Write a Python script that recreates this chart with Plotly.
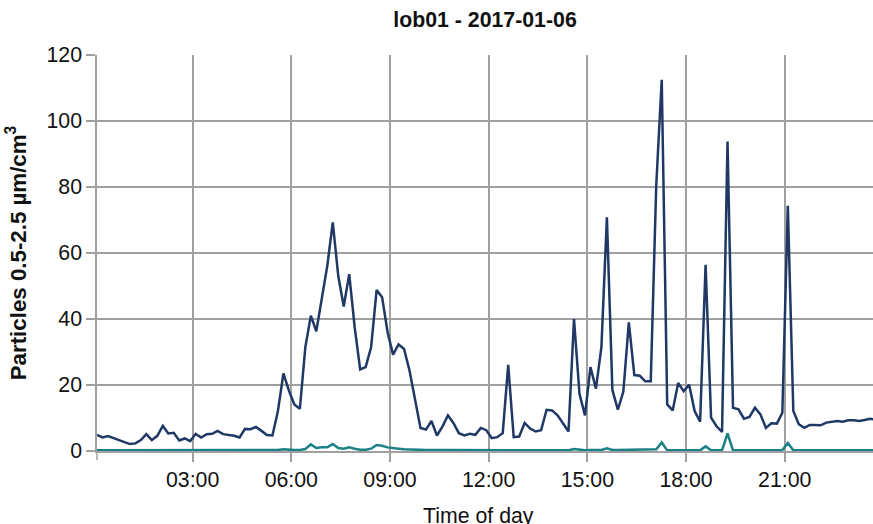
import pandas as pd
import plotly.graph_objects as go

# Sampling: one reading every 10 minutes starting shortly after midnight
START = "2017-01-06 00:05:40"
STEP = "10min"

# Particle concentration, 0.5-2.5 µm (dark series)
pm_fine = [
    4.85, 4.1, 4.5, 3.9, 3.5, 2.8, 2.1, 2.3, 3.3, 5.1,
    3.3, 4.6, 7.6, 5.3, 5.5, 3.2, 3.8, 3.0, 5.2, 4.1,
    5.1, 5.2, 6.1, 5.1, 4.85, 4.6, 4.1, 6.7, 6.6, 7.3,
    6.1, 4.85, 4.7, 12.1, 23.5, 18.3, 14.1, 12.8, 31.5, 41.0,
    36.3, 45.6, 56.1, 69.3, 53.1, 43.8, 53.6, 37.5, 24.7, 25.4,
    31.5, 48.8, 46.6, 36.0, 29.2, 32.3, 30.9, 24.4, 15.3, 7.0,
    6.5, 9.1, 4.7, 7.4, 10.8, 8.5, 5.4, 4.7, 5.2, 4.9,
    7.0, 6.3, 3.9, 4.2, 5.4, 26.1, 4.2, 4.4, 8.5, 6.8,
    5.9, 6.3, 12.5, 12.3, 10.8, 8.5, 5.9, 40.0, 17.3, 10.8,
    25.4, 18.9, 31.5, 70.8, 18.5, 12.5, 18.0, 39.0, 23.0, 22.8,
    21.1, 21.1, 80.5, 112.5, 14.1, 12.3, 20.6, 18.1, 20.1, 12.1,
    8.9, 56.4, 10.1, 7.5, 5.8, 93.8, 13.1, 12.6, 9.8, 10.3,
    13.1, 11.1, 7.0, 8.4, 8.3, 11.6, 74.3, 12.1, 8.1, 7.0,
    7.9, 7.9, 7.8, 8.6, 8.8, 9.1, 8.9, 9.3, 9.3, 9.1,
    9.4, 9.8, 9.5,
]

# Coarser fraction (teal series)
pm_coarse = [
    0.2, 0.2, 0.2, 0.1, 0.1, 0.1, 0.1, 0.1, 0.2, 0.2,
    0.2, 0.2, 0.3, 0.2, 0.2, 0.1, 0.2, 0.1, 0.2, 0.2,
    0.2, 0.2, 0.2, 0.2, 0.2, 0.2, 0.2, 0.3, 0.3, 0.3,
    0.2, 0.2, 0.2, 0.3, 0.5, 0.3, 0.3, 0.3, 0.6, 2.0,
    0.9, 1.1, 1.1, 2.1, 0.9, 0.7, 1.1, 0.7, 0.4, 0.4,
    0.7, 1.8, 1.6, 1.1, 0.8, 0.7, 0.5, 0.4, 0.35, 0.3,
    0.3, 0.3, 0.2, 0.3, 0.3, 0.3, 0.2, 0.2, 0.2, 0.2,
    0.3, 0.2, 0.2, 0.2, 0.2, 0.4, 0.2, 0.2, 0.3, 0.2,
    0.2, 0.2, 0.3, 0.3, 0.3, 0.2, 0.2, 0.6, 0.3, 0.2,
    0.3, 0.2, 0.3, 0.8, 0.3, 0.3, 0.3, 0.3, 0.3, 0.3,
    0.3, 0.3, 0.5, 2.6, 0.2, 0.2, 0.2, 0.2, 0.2, 0.2,
    0.2, 1.4, 0.2, 0.2, 0.2, 5.3, 0.2, 0.2, 0.2, 0.2,
    0.2, 0.2, 0.2, 0.2, 0.2, 0.3, 2.4, 0.2, 0.2, 0.2,
    0.2, 0.2, 0.2, 0.2, 0.2, 0.2, 0.2, 0.2, 0.2, 0.2,
    0.2, 0.2, 0.2,
]

times = pd.date_range(START, periods=len(pm_fine), freq=STEP)

TITLE = "lob01 - 2017-01-06"
Y_TITLE = "<b>Particles 0.5-2.5 µm/cm<sup>3</sup></b>"
X_TITLE = "Time of day"
Y_TICKS = [0, 20, 40, 60, 80, 100, 120]

FONT = "Liberation Sans, Arial, sans-serif"
GRID = "#a0a0a0"

fig = go.Figure()
fig.add_trace(go.Scatter(
    x=times, y=pm_fine, mode="lines",
    line=dict(color="#1f3866", width=2.5),
    showlegend=False,
))
fig.add_trace(go.Scatter(
    x=times, y=pm_coarse, mode="lines",
    line=dict(color="#1b8187", width=2.5),
    showlegend=False,
))

fig.update_layout(
    width=873, height=524,
    margin=dict(l=97, r=0, t=55, b=73),
    paper_bgcolor="white", plot_bgcolor="white",
    font=dict(family=FONT, size=21.3, color="#111111"),
    title=dict(
        text=f"<b>{TITLE}</b>", x=0.5, xref="paper",
        y=1 - 20 / 524, yanchor="middle",
        font=dict(family=FONT, size=21.3, color="#111111"),
    ),
    xaxis=dict(
        range=["2017-01-06 00:05:40", "2017-01-06 23:41:00"],
        tick0="2017-01-06 00:00", dtick=3 * 3600 * 1000,
        tickformat="%H:%M",
        showgrid=True, gridcolor=GRID, gridwidth=1.5,
        showline=True, linecolor=GRID, linewidth=1.5,
        ticks="outside", ticklen=9, tickcolor=GRID, tickwidth=1.5,
        zeroline=False,
        automargin=False,
    ),
    yaxis=dict(
        range=[0, 120], tickvals=Y_TICKS,
        showgrid=True, gridcolor=GRID, gridwidth=1.5,
        showline=True, linecolor=GRID, linewidth=1.5,
        ticks="outside", ticklen=9, tickcolor=GRID, tickwidth=1.5,
        zeroline=False,
        title=dict(text=Y_TITLE, standoff=14, font=dict(size=22.3)),
        automargin=False,
    ),
)

# Time-axis title, placed low so its descenders run to the page edge
fig.add_annotation(
    text=X_TITLE, xref="paper", yref="paper",
    x=0.4916, y=-0.164, xanchor="center", yanchor="middle",
    showarrow=False, font=dict(family=FONT, size=21.3, color="#111111"),
)

# Small downward extension of the left axis line below the time axis
fig.add_shape(type="line", xref="paper", yref="paper",
              x0=0, x1=0, y0=0, y1=-9 / 396,
              line=dict(color=GRID, width=1.5))

fig.write_html("out.html")
